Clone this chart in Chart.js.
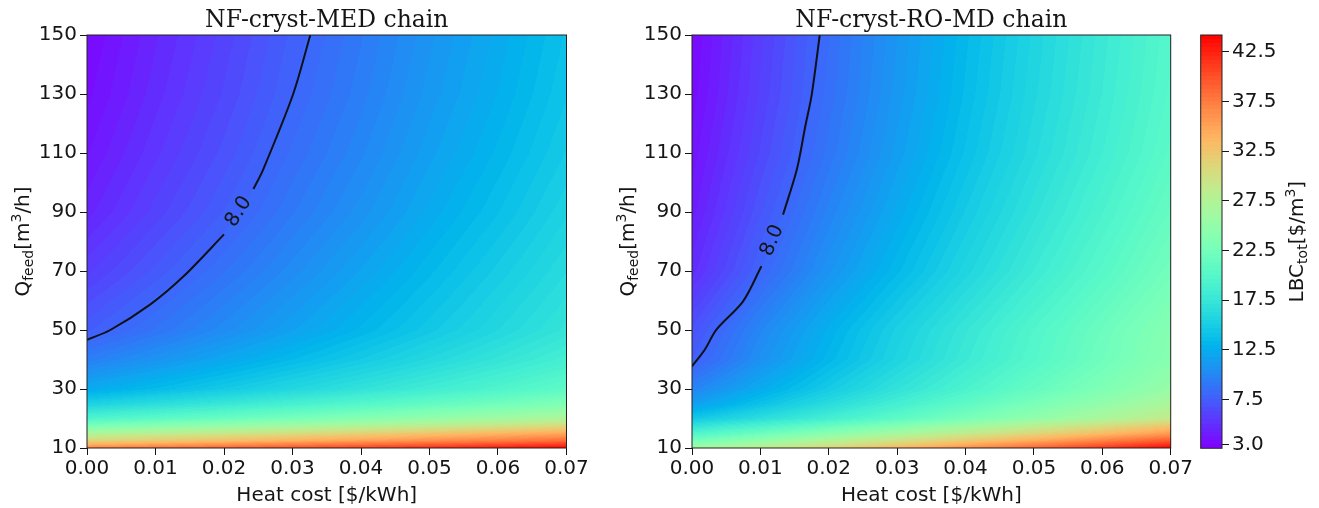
<!DOCTYPE html>
<html>
<head>
<meta charset="utf-8">
<title>LBC maps</title>
<script src="https://cdn.jsdelivr.net/npm/chart.js@4.4.1/dist/chart.umd.min.js"></script>
<style>
  body { margin: 0; background: #fff; }
  #wrap { position: relative; width: 1319px; height: 508px; }
  canvas { position: absolute; top: 0; }
</style>
</head>
<body>
<div id="wrap">
  <canvas id="med" width="600" height="508" style="left:0px"></canvas>
  <canvas id="ro" width="592" height="508" style="left:605px"></canvas>
  <canvas id="cbar" width="122" height="508" style="left:1197px"></canvas>
</div>
<script>
// ticks
const heatTicks = [0, 0.01, 0.02, 0.03, 0.04, 0.05, 0.06, 0.07];
const qTicks = [10, 30, 50, 70, 90, 110, 130, 150];
const cbTicks = [3.0, 7.5, 12.5, 17.5, 22.5, 27.5, 32.5, 37.5, 42.5];
const cbMin = 2.6, cbMax = 44.2;

const heatGrid = [0, 0.01, 0.02, 0.03, 0.04, 0.05, 0.06, 0.07];
const qGrid = [10, 12.5, 15, 17.5, 20, 25, 30, 40, 50, 70, 90, 110, 130, 150];

// NF-cryst-MED chain, one row per Q value (bottom -> top)
const medLBC = [
  [37, 38, 39, 40, 41, 42, 43, 44],
  [31, 32.1, 33.1, 34.2, 35.2, 36.3, 37.3, 38.4],
  [27, 28.1, 29.2, 30.3, 31.4, 32.5, 33.6, 34.7],
  [23, 24.1, 25.2, 26.3, 27.4, 28.5, 29.6, 30.7],
  [19.5, 20.6, 21.7, 22.8, 23.9, 25, 26.1, 27.2],
  [15.3, 16.5, 17.6, 18.8, 19.9, 21.1, 22.2, 23.4],
  [12.3, 13.5, 14.7, 15.9, 17.1, 18.3, 19.5, 20.7],
  [9.5, 10.8, 12.1, 13.4, 14.7, 16, 17.3, 18.6],
  [7.5, 8.9, 10.3, 11.7, 13.1, 14.5, 15.9, 17.3],
  [5.8, 7.3, 8.8, 10.3, 11.8, 13.3, 14.8, 16.3],
  [4.5, 6.1, 7.6, 9.2, 10.7, 12.3, 13.8, 15.4],
  [3.8, 5.4, 6.9, 8.5, 10, 11.6, 13.1, 14.7],
  [3.3, 4.9, 6.4, 8, 9.5, 11.1, 12.6, 14.2],
  [3, 4.6, 6.1, 7.7, 9.2, 10.8, 12.3, 13.9]
];

// NF-cryst-RO-MD chain
const roLBC = [
  [26, 28.6, 31.1, 33.7, 36.3, 38.9, 41.4, 44],
  [22.5, 24.9, 27.4, 29.8, 32.2, 34.6, 37.1, 39.5],
  [19.5, 21.8, 24.1, 26.4, 28.7, 30.9, 33.2, 35.5],
  [17, 19.2, 21.4, 23.6, 25.9, 28.1, 30.3, 32.5],
  [14.5, 16.6, 18.6, 20.7, 22.8, 24.9, 26.9, 29],
  [11.5, 14, 16.4, 18.6, 20.8, 22.9, 24.9, 27],
  [9.8, 12.4, 14.8, 17.1, 19.2, 21.3, 23.3, 25.3],
  [7.6, 10.6, 13.2, 15.6, 17.9, 20, 22.1, 24.1],
  [6.9, 10, 12.7, 15.2, 17.5, 19.7, 21.8, 23.9],
  [4.9, 8, 10.8, 13.3, 15.7, 18, 20.2, 22.4],
  [4.1, 7.1, 9.8, 12.3, 14.7, 17, 19.2, 21.4],
  [3.6, 6.4, 9, 11.5, 13.9, 16.2, 18.4, 20.6],
  [3.2, 6, 8.6, 11.1, 13.5, 15.8, 18, 20.2],
  [3, 5.8, 8.4, 10.9, 13.3, 15.6, 17.8, 20]
];

// 8.0 contour lines (null = gap for the inline label)
const medContourHeat = [0, 0.0034, 0.0092, 0.0141, 0.0200, 0.0221, 0.0243, 0.0257, 0.0301, 0.0326];
const medContourQ = [46.7, 50, 58.6, 68.2, 82.4, null, 97.8, 104.3, 130, 150];
const roContourHeat = [0, 0.00186, 0.00357, 0.00746, 0.01015, 0.0114, 0.01331, 0.01532, 0.01656, 0.01751, 0.01868];
const roContourQ = [37.7, 43.3, 50.1, 59.7, 71.6, null, 89.1, 104.3, 119.0, 129.8, 150];
const contourText = '8.0';

const nLevels = 100;
const SANS = '"DejaVu Sans", sans-serif';
const INK = '#151515';

// matplotlib "rainbow", cut into nLevels bands like contourf
const lut = [];
for (let k = 0; k < nLevels; k++) {
  const t = (k + 0.5) / nLevels;
  lut.push([
    Math.min(1, Math.abs(2 * t - 0.5)) * 255,
    Math.sin(Math.PI * t) * 255,
    Math.cos(Math.PI * t / 2) * 255
  ]);
}
function colorOf(v) {
  let k = Math.floor((v - cbMin) / (cbMax - cbMin) * nLevels);
  k = Math.max(0, Math.min(nLevels - 1, k));
  return lut[k];
}

// text with sub/superscripts, centred on (x, y) baseline
function drawRich(ctx, parts, x, y, angle) {
  ctx.save();
  ctx.translate(x, y);
  ctx.rotate(angle);
  ctx.textBaseline = 'alphabetic';
  ctx.textAlign = 'left';
  ctx.fillStyle = INK;
  let total = 0;
  parts.forEach(p => {
    ctx.font = p.size + 'px ' + SANS;
    p.w = ctx.measureText(p.text).width;
    total += p.w;
  });
  let cx = -total / 2;
  parts.forEach(p => {
    ctx.font = p.size + 'px ' + SANS;
    ctx.fillText(p.text, cx, p.dy || 0);
    cx += p.w;
  });
  ctx.restore();
}

const yTitle = [
  {text: 'Q', size: 20}, {text: 'feed', size: 14, dy: 4}, {text: '[m', size: 20},
  {text: '3', size: 14, dy: -8}, {text: '/h]', size: 20}
];
const cbTitle = [
  {text: 'LBC', size: 20}, {text: 'tot', size: 14, dy: 4}, {text: '[$/m', size: 20},
  {text: '3', size: 14, dy: -8}, {text: ']', size: 20}
];

function heatmap(values) {
  return {
    id: 'heatmap',
    beforeDatasetsDraw(chart) {
      const {ctx, chartArea: a, scales: {x, y}} = chart;
      const L = Math.round(a.left), T = Math.round(a.top);
      const W = Math.round(a.right) - L, H = Math.round(a.bottom) - T;
      const img = ctx.createImageData(W, H);
      for (let j = 0; j < qGrid.length - 1; j++) {
        const yb = y.getPixelForValue(qGrid[j]), yt = y.getPixelForValue(qGrid[j + 1]);
        for (let i = 0; i < heatGrid.length - 1; i++) {
          const xl = x.getPixelForValue(heatGrid[i]), xr = x.getPixelForValue(heatGrid[i + 1]);
          const v00 = values[j][i], v10 = values[j][i + 1];
          const v01 = values[j + 1][i], v11 = values[j + 1][i + 1];
          for (let py = Math.max(T, Math.round(yt)); py < Math.min(T + H, Math.round(yb)); py++) {
            const fy = (yb - py - 0.5) / (yb - yt);
            for (let px = Math.max(L, Math.round(xl)); px < Math.min(L + W, Math.round(xr)); px++) {
              const fx = (px + 0.5 - xl) / (xr - xl);
              const v = (v00 * (1 - fx) + v10 * fx) * (1 - fy) + (v01 * (1 - fx) + v11 * fx) * fy;
              const c = colorOf(v);
              const o = ((py - T) * W + (px - L)) * 4;
              img.data[o] = c[0];
              img.data[o + 1] = c[1];
              img.data[o + 2] = c[2];
              img.data[o + 3] = 255;
            }
          }
        }
      }
      ctx.putImageData(img, L, T);
    }
  };
}

function decor(title, heats, qs) {
  return {
    id: 'decor',
    afterDraw(chart) {
      const {ctx, chartArea: a, scales: {x, y}} = chart;
      const cx = (a.left + a.right) / 2, cy = (a.top + a.bottom) / 2;
      ctx.save();
      ctx.strokeStyle = '#222';
      ctx.lineWidth = 1;
      ctx.strokeRect(a.left, a.top, a.right - a.left, a.bottom - a.top);
      // title
      ctx.fillStyle = INK;
      ctx.font = '23.5px "DejaVu Serif", serif';
      ctx.textAlign = 'center';
      ctx.textBaseline = 'alphabetic';
      ctx.fillText(title, cx, a.top - 8);
      // x title
      ctx.font = '20px ' + SANS;
      ctx.fillText('Heat cost [$/kWh]', cx, a.bottom + 53);
      // inline contour label in the gap of the line
      const g = qs.indexOf(null);
      const p0 = [x.getPixelForValue(heats[g - 1]), y.getPixelForValue(qs[g - 1])];
      const p1 = [x.getPixelForValue(heats[g + 1]), y.getPixelForValue(qs[g + 1])];
      ctx.translate((p0[0] + p1[0]) / 2, (p0[1] + p1[1]) / 2);
      ctx.rotate(Math.atan2(p1[1] - p0[1], p1[0] - p0[0]));
      ctx.textBaseline = 'middle';
      ctx.fillText(contourText, 0, 0);
      ctx.restore();
      drawRich(ctx, yTitle, a.left - 58, cy, -Math.PI / 2);
    }
  };
}

function panel(id, title, values, heats, qs, padRight) {
  const tickFont = {family: SANS, size: 20};
  new Chart(document.getElementById(id), {
    type: 'line',
    data: {
      datasets: [{
        data: heats.map((h, i) => ({x: h, y: qs[i]})),
        borderColor: '#10101a',
        borderWidth: 2,
        pointRadius: 0,
        tension: 0.3,
        spanGaps: false,
        fill: false
      }]
    },
    options: {
      responsive: false,
      animation: false,
      events: [],
      layout: {padding: {top: 35, right: padRight, left: 0, bottom: 0}},
      plugins: {legend: {display: false}, tooltip: {enabled: false}},
      scales: {
        x: {
          type: 'linear', min: 0, max: 0.07,
          afterBuildTicks: s => { s.ticks = heatTicks.map(v => ({value: v})); },
          afterFit: s => { s.height = 60; },
          border: {display: false},
          grid: {drawOnChartArea: false, tickLength: 7, color: INK},
          ticks: {font: tickFont, color: INK, padding: 2, maxRotation: 0, autoSkip: false,
                  callback: v => v.toFixed(2)}
        },
        y: {
          type: 'linear', min: 10, max: 150,
          afterBuildTicks: s => { s.ticks = qTicks.map(v => ({value: v})); },
          afterFit: s => { s.width = 87; },
          border: {display: false},
          grid: {drawOnChartArea: false, tickLength: 7, color: INK},
          ticks: {font: tickFont, color: INK, padding: 3, autoSkip: false,
                  callback: v => String(v)}
        }
      }
    },
    plugins: [heatmap(values), decor(title, heats, qs)]
  });
}

panel('med', 'NF-cryst-MED chain', medLBC, medContourHeat, medContourQ, 33.5);
panel('ro', 'NF-cryst-RO-MD chain', roLBC, roContourHeat, roContourQ, 26.3);

// colour bar
new Chart(document.getElementById('cbar'), {
  type: 'line',
  data: {datasets: []},
  options: {
    responsive: false,
    animation: false,
    events: [],
    layout: {padding: {top: 35, left: 3.7, bottom: 59.7, right: 0}},
    plugins: {legend: {display: false}, tooltip: {enabled: false}},
    scales: {
      x: {type: 'linear', display: false, min: 0, max: 1},
      y: {
        type: 'linear', position: 'right', min: cbMin, max: cbMax,
        afterBuildTicks: s => { s.ticks = cbTicks.map(v => ({value: v})); },
        afterFit: s => { s.width = 97; },
        border: {display: false},
        grid: {drawOnChartArea: false, tickLength: 7, color: INK},
        ticks: {font: {family: SANS, size: 20}, color: INK, padding: 3, autoSkip: false,
                callback: v => v.toFixed(1)}
      }
    }
  },
  plugins: [{
    id: 'colorbar',
    beforeDatasetsDraw(chart) {
      const {ctx, chartArea: a, scales: {y}} = chart;
      for (let py = Math.round(a.top); py < Math.round(a.bottom); py++) {
        const c = colorOf(y.getValueForPixel(py + 0.5));
        ctx.fillStyle = 'rgb(' + c.map(Math.round).join(',') + ')';
        ctx.fillRect(a.left, py, a.right - a.left, 1);
      }
    },
    afterDraw(chart) {
      const {ctx, chartArea: a} = chart;
      ctx.save();
      ctx.strokeStyle = '#222';
      ctx.lineWidth = 1;
      ctx.strokeRect(a.left, a.top, a.right - a.left, a.bottom - a.top);
      ctx.restore();
      drawRich(ctx, cbTitle, a.right + 81, (a.top + a.bottom) / 2, -Math.PI / 2);
    }
  }]
});
</script>
</body>
</html>
